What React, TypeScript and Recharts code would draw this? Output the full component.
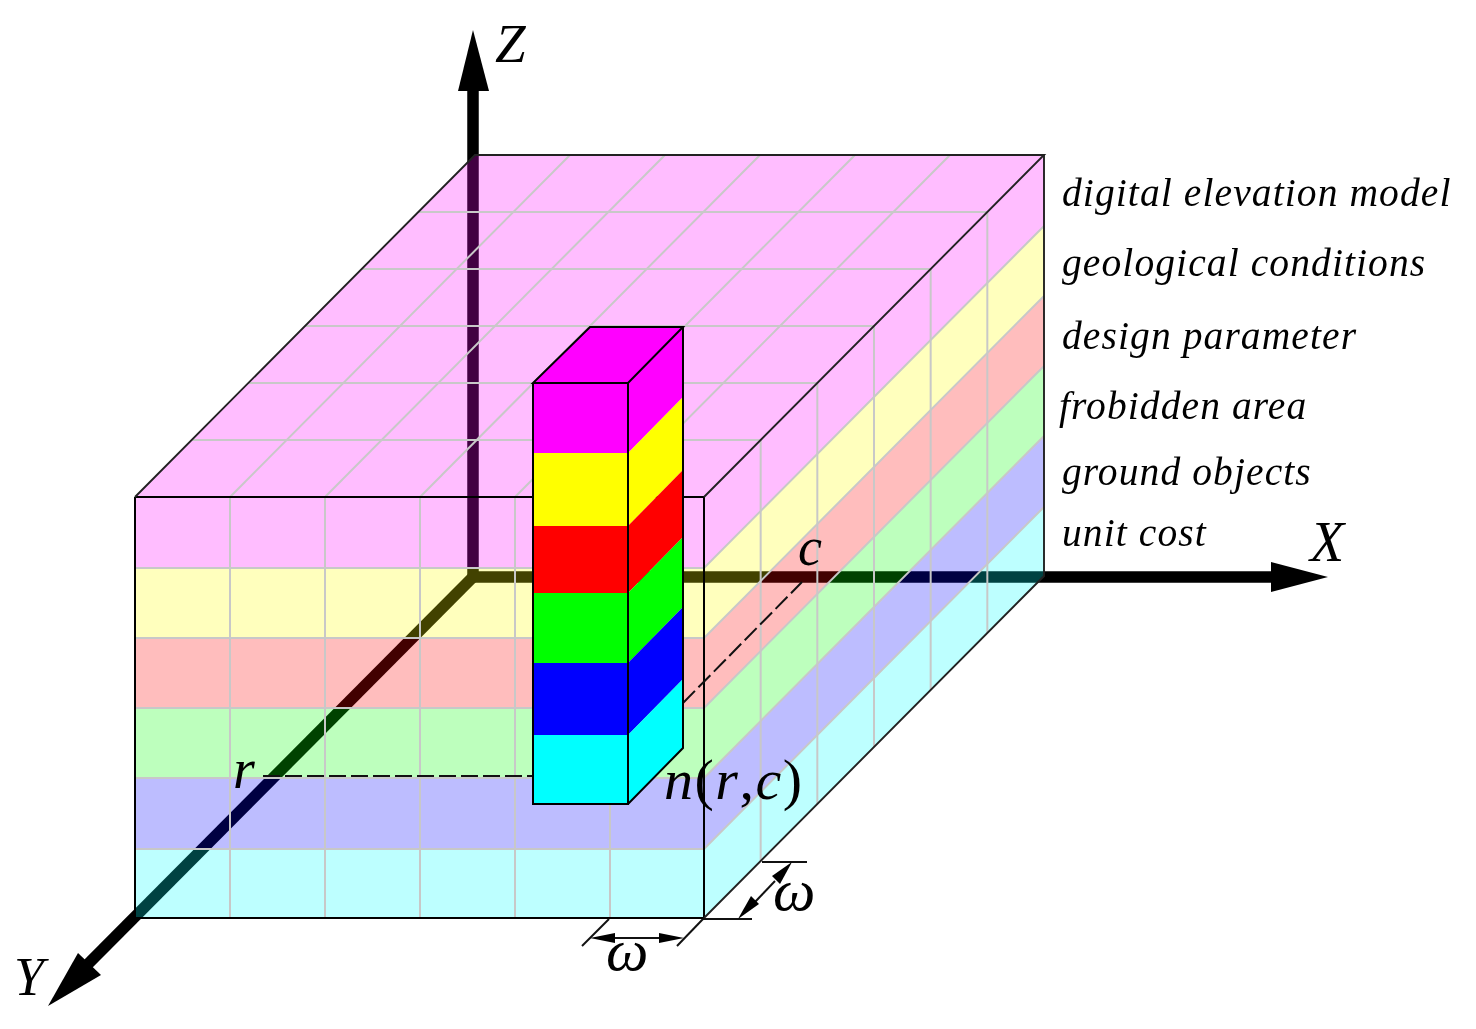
import React from "react";
import { ScatterChart, Scatter, XAxis, YAxis } from "recharts";

type P = { x: number; y: number };

const layerNames = ["digital elevation model", "geological conditions", "design parameter", "frobidden area", "ground objects", "unit cost"];
const layerLabelX = [1062, 1062, 1062, 1059, 1062, 1062];
const layerLabelY = [206, 276, 349, 419, 485, 546];
const layerColors = ["#ff00ff", "#ffff00", "#ff0000", "#00ff00", "#0000ff", "#00ffff"];
const frontEdges = [497, 568, 638, 708, 778, 849, 918];
const columnEdges = [383, 453, 526, 593, 663, 735, 804];
const gridX = [135, 230, 325, 420, 515, 610, 704];
const depthSteps = [1, 2, 3, 4, 5, 6];
const backRightX = 1044;
const backTopY = 155;
const depthX = 340;
const depthY = -342;
const columnX = [533, 628];
const columnDepth = [55, -56];
const gridColor = "#c8c8c8";

const tri = (pts: number[][]): P[] => pts.map(([x, y]) => ({ x, y }));

const axisHeads = [
  [[473, 30], [489, 91], [458, 91]],
  [[1328, 577], [1271, 562], [1271, 592]],
  [[48, 1006], [78, 953], [101, 975]],
];
const axisShafts = [
  [[473, 577], [473, 88]],
  [[468, 577], [1275, 577]],
  [[476, 574], [88, 964]],
];
const dimensionLines = [
  [[609, 919], [582, 946]],
  [[703, 919], [677, 946]],
  [[610, 938], [665, 938]],
  [[703, 919], [752, 919]],
  [[762, 862], [807, 862]],
  [[755, 902], [775, 881]],
];
const dimensionHeads = [
  [[590, 938], [615, 933], [615, 943]],
  [[684, 938], [659, 933], [659, 943]],
  [[738, 919], [751, 896], [759, 904]],
  [[792, 862], [772, 876], [780, 884]],
];
const dashedLines = [
  [[263, 776], [533, 776]],
  [[683, 703], [802, 582]],
];
const glyphs = [
  { x: 495, y: 62, t: "Z", s: 55, ls: 0 },
  { x: 1310, y: 561, t: "X", s: 56, ls: 0 },
  { x: 14, y: 995, t: "Y", s: 54, ls: 0 },
  { x: 233, y: 788, t: "r", s: 56, ls: 0 },
  { x: 798, y: 565, t: "c", s: 54, ls: 0 },
  { x: 664, y: 799, t: "n(r,c)", s: 58, ls: 1.5 },
  { x: 773, y: 910, t: "ω", s: 60, ls: 0 },
  { x: 606, y: 970, t: "ω", s: 60, ls: 0 },
];

const Poly = (fill: string, stroke: string, width: number, dash?: string, fillOpacity = 1, close = true) => (p: any) => {
  const d = p.points.map((q: P, i: number) => `${i ? "L" : "M"}${q.x},${q.y}`).join(" ") + (close ? " Z" : "");
  return <path d={d} fill={fill} fillOpacity={fillOpacity} stroke={stroke} strokeWidth={width} strokeDasharray={dash} />;
};

const Nothing = () => <g />;

let n = 0;
const mark = (pts: P[], lineFn: any) => (
  <Scatter key={`m${n++}`} data={pts} line={lineFn} lineType="joint" shape={Nothing} isAnimationActive={false} />
);
const fillMark = (pts: P[], fill: string, op = 1, stroke = "none", w = 0) => mark(pts, Poly(fill, stroke, w, undefined, op));
const lineMark = (pts: P[], stroke: string, w: number, dash?: string) => mark(pts, Poly("none", stroke, w, dash, 0, false));

const Txt = (p: any) => (
  <text x={p.cx} y={p.cy} fontFamily="Liberation Serif" fontStyle="italic" fill="#000" fontSize={p.payload.s} letterSpacing={p.payload.ls}>
    {String(p.payload.t)
      .split(/([(),])/)
      .filter(Boolean)
      .map((part: string, i: number) => (
        <tspan key={i} fontStyle={/[(),]/.test(part) ? "normal" : "italic"}>
          {part}
        </tspan>
      ))}
  </text>
);

const L = frontEdges.length - 1;
const fl = gridX[0];
const fr = gridX[gridX.length - 1];
const topY = frontEdges[0];
const botY = frontEdges[L];
const stepX = depthX / 6;
const stepY = depthY / 6;

const layerFaces: P[][] = [];
const layerFills: string[] = [];
layerColors.forEach((c, i) => {
  const a = frontEdges[i];
  const b = frontEdges[i + 1];
  layerFaces.push(tri([[fl, a], [fr, a], [fr, b], [fl, b]]));
  layerFills.push(c);
  layerFaces.push(tri([[fr, a], [fr + depthX, a + depthY], [fr + depthX, b + depthY], [fr, b]]));
  layerFills.push(c);
});
const topFace = tri([[fl, topY], [fr, topY], [backRightX, backTopY], [fl + depthX, backTopY]]);

const labels = layerNames.map((t, i) => ({ x: layerLabelX[i], y: layerLabelY[i], t, s: 39.5, ls: 1.1 }));

export default function App() {
  n = 0;
  return (
    <div style={{ position: "absolute", left: 0, top: 0, width: 1476, height: 1029, background: "#fff", filter: "blur(0.5px)" }}>
      <ScatterChart width={1476} height={1029} margin={{ top: 0, right: 0, bottom: 0, left: 0 }}>
        <XAxis type="number" dataKey="x" domain={[0, 1476]} hide />
        <YAxis type="number" dataKey="y" domain={[0, 1029]} reversed hide />

        {axisShafts.map((s) => lineMark(tri(s), "#000", 11.5))}
        {axisHeads.map((h) => fillMark(tri(h), "#000"))}

        {fillMark(topFace, layerColors[0], 0.26)}
        {layerFaces.map((f, i) => fillMark(f, layerFills[i], 0.26))}

        {frontEdges.slice(1, -1).map((y) => lineMark(tri([[fl, y], [fr, y], [fr + depthX, y + depthY]]), gridColor, 2))}
        {gridX.slice(1, -1).map((x) => lineMark(tri([[x, topY], [x, botY]]), gridColor, 2))}
        {gridX.slice(1, -1).map((x) => lineMark(tri([[x, topY], [x + depthX, backTopY]]), gridColor, 2))}
        {depthSteps.slice(0, -1).map((k) => lineMark(tri([[fl + depthX - k * stepX, backTopY - k * stepY], [backRightX - k * stepX, backTopY - k * stepY]]), gridColor, 2))}
        {depthSteps.slice(0, -1).map((k) => lineMark(tri([[backRightX - k * stepX, backTopY - k * stepY], [backRightX - k * stepX, botY + depthY - k * stepY]]), gridColor, 2))}

        {lineMark(tri([[fl, topY], [fr, topY], [fr, botY], [fl, botY], [fl, topY]]), "#000", 2)}
        {lineMark(tri([[fl, topY], [fl + depthX, backTopY], [backRightX, backTopY], [fr, topY]]), "#222", 1.9)}
        {lineMark(tri([[backRightX, backTopY], [backRightX, botY + depthY], [fr, botY]]), "#222", 1.9)}

        {dashedLines.map((d) => lineMark(tri(d), "#111", 2, "17 5"))}

        {layerColors.map((c, i) =>
          fillMark(
            tri([[columnX[0], columnEdges[i]], [columnX[1], columnEdges[i]], [columnX[1], columnEdges[i + 1]], [columnX[0], columnEdges[i + 1]]]),
            c,
          ),
        )}
        {layerColors.map((c, i) =>
          fillMark(
            tri([
              [columnX[1], columnEdges[i]],
              [columnX[1] + columnDepth[0], columnEdges[i] + columnDepth[1]],
              [columnX[1] + columnDepth[0], columnEdges[i + 1] + columnDepth[1]],
              [columnX[1], columnEdges[i + 1]],
            ]),
            c,
          ),
        )}
        {fillMark(
          tri([
            [columnX[0], columnEdges[0]],
            [columnX[1], columnEdges[0]],
            [columnX[1] + columnDepth[0], columnEdges[0] + columnDepth[1]],
            [columnX[0] + 57, columnEdges[0] + columnDepth[1]],
          ]),
          layerColors[0],
          1,
          "#000",
          2,
        )}
        {lineMark(tri([[columnX[0], columnEdges[0]], [columnX[1], columnEdges[0]], [columnX[1], columnEdges[L]], [columnX[0], columnEdges[L]], [columnX[0], columnEdges[0]]]), "#000", 2)}
        {lineMark(tri([[columnX[1], columnEdges[L]], [columnX[1] + columnDepth[0], columnEdges[L] + columnDepth[1]], [columnX[1] + columnDepth[0], columnEdges[0] + columnDepth[1]]]), "#000", 2)}

        {dimensionLines.map((d) => lineMark(tri(d), "#111", 2))}
        {dimensionHeads.map((h) => fillMark(tri(h), "#000"))}

        <Scatter data={labels} shape={Txt} isAnimationActive={false} />
        <Scatter data={glyphs} shape={Txt} isAnimationActive={false} />
      </ScatterChart>
    </div>
  );
}
